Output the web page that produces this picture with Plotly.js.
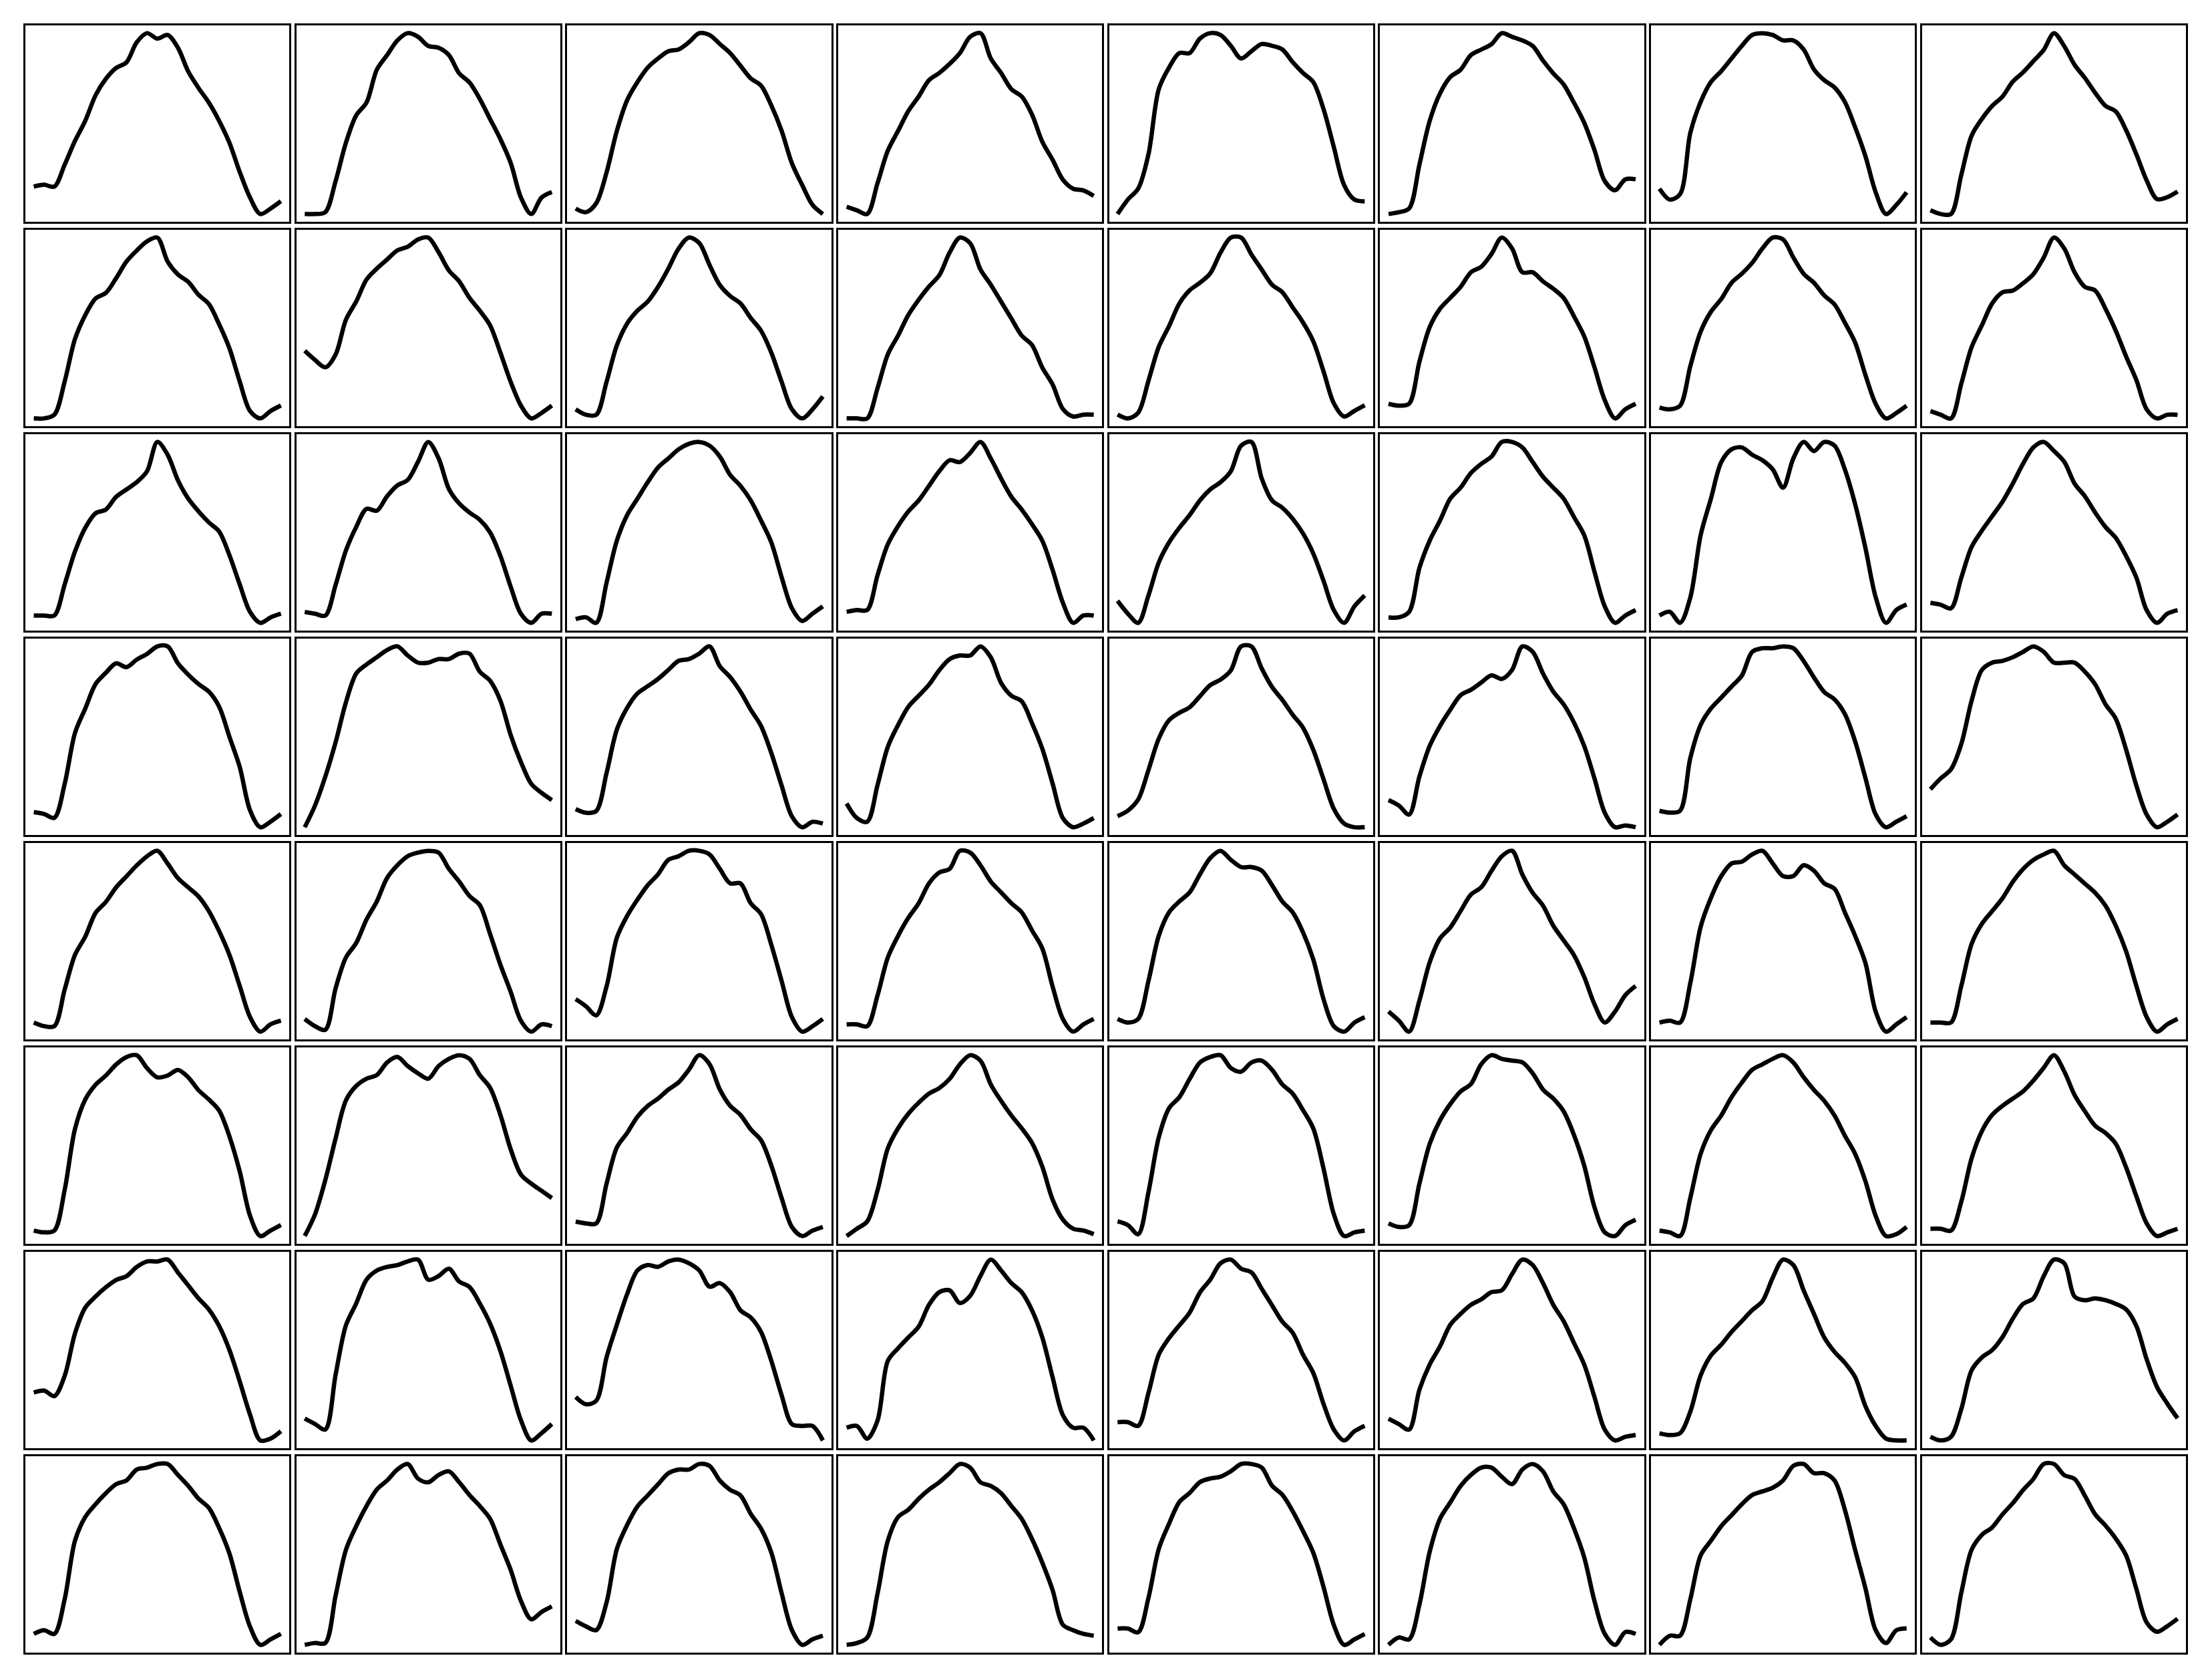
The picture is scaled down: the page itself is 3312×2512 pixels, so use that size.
<!DOCTYPE html>
<html><head><meta charset="utf-8">
<script src="https://cdn.plot.ly/plotly-3.0.1.min.js"></script>
<style>html,body{margin:0;padding:0;background:#fff}</style>
</head><body><div id="chart" style="width:3312px;height:2512px"></div>
<script>
const sampleIdx = [0,1,2,3,4,5,6,7,8,9,10,11,12,13,14,15,16,17,18,19,20,21,22,23,24];

// Row 1
const p11 = [15,16,15,27,40,51,65,74,80,83,94,99,96,98,91,78,69,61,51,39,23,9,0,3,7];
const p12 = [1,1,2,19,40,55,62,80,88,96,100,98,93,92,88,78,73,64,53,42,29,10,1,10,13];
const p13 = [3,1,6,23,46,63,73,81,86,90,91,95,100,99,94,89,82,75,71,60,46,28,16,5,0];
const p14 = [4,2,0,17,35,46,57,65,74,78,83,89,98,100,86,78,69,65,55,40,30,19,14,13,10];
const p15 = [0,8,14,33,69,81,89,89,97,100,99,93,86,90,94,93,91,84,78,73,58,37,16,8,7];
const p16 = [1,2,4,28,52,67,76,80,88,91,94,100,98,96,93,85,78,72,62,51,36,19,14,20,20];
const p17 = [14,8,11,45,62,73,79,86,93,99,100,99,96,96,91,80,74,70,62,48,32,12,0,5,12];
const p18 = [4,2,2,23,44,53,60,65,73,78,84,90,99,92,82,75,67,60,57,47,34,20,10,11,14];
// Row 2
const p21 = [1,1,3,21,44,57,66,69,77,86,92,97,99,86,79,75,68,63,52,39,21,5,1,5,8];
const p22 = [37,32,28,35,54,64,76,82,87,92,94,98,99,91,81,75,66,59,51,36,20,7,0,3,7];
const p23 = [6,3,3,21,41,53,60,65,73,83,94,100,97,85,74,68,64,56,49,37,21,6,1,6,13];
const p24 = [2,2,2,18,36,46,57,65,72,78,90,98,95,81,73,64,55,46,41,29,20,7,3,4,4];
const p25 = [3,1,4,21,39,50,62,69,73,78,89,97,97,88,80,72,68,60,52,42,26,9,2,5,8];
const p26 = [8,7,8,31,50,60,66,72,80,83,90,99,93,80,80,75,71,66,56,45,28,10,0,5,8];
const p27 = [6,5,7,29,48,59,66,75,80,86,94,100,99,89,80,75,68,63,53,42,24,8,0,3,7];
const p28 = [5,3,1,20,40,52,64,70,71,75,80,89,100,94,81,73,71,61,49,35,22,6,1,3,3];
// Row 3
const p31 = [4,4,4,21,39,52,60,62,69,73,77,83,99,92,78,68,61,55,50,37,21,6,0,3,5];
const p32 = [6,5,4,21,40,53,63,62,70,76,79,89,100,91,74,66,61,57,50,37,20,5,0,5,5];
const p33 = [3,4,1,23,46,60,69,78,86,91,96,99,100,98,92,82,76,68,57,45,26,9,2,6,10];
const p34 = [6,7,7,26,43,53,61,67,75,83,89,88,93,99,90,79,69,62,54,45,29,11,0,4,4];
const p35 = [12,5,0,15,33,44,52,59,67,73,77,83,97,99,79,67,63,57,49,38,23,7,0,9,15];
const p36 = [3,3,6,30,45,56,68,74,82,87,91,99,99,96,88,80,74,68,58,48,28,9,0,4,7];
const p37 = [4,6,0,14,48,68,88,95,96,92,89,84,74,90,99,94,99,97,84,65,41,14,0,7,10];
const p38 = [11,10,8,25,42,51,59,67,77,88,97,100,95,89,77,70,61,53,47,37,25,7,0,5,7];
// Row 4
const p41 = [9,8,6,24,51,64,77,83,88,86,90,93,97,97,88,82,77,73,65,49,33,10,1,4,8];
const p42 = [0,12,28,47,69,85,90,94,98,100,95,91,91,93,93,96,96,86,81,70,51,36,24,19,15];
const p43 = [10,8,9,30,54,66,74,78,82,87,92,93,96,100,89,83,75,65,56,41,23,6,0,3,2];
const p44 = [14,6,4,24,45,57,67,73,79,87,93,95,95,100,94,80,73,70,58,44,25,6,1,3,6];
const p45 = [6,9,15,31,48,58,62,65,71,77,80,85,98,98,86,76,69,61,54,42,26,10,2,0,0];
const p46 = [15,12,7,28,45,56,65,73,76,80,84,82,87,100,97,85,75,68,58,45,27,8,0,1,0];
const p47 = [9,8,9,38,56,65,71,77,83,96,98,98,99,98,91,82,74,70,62,47,27,7,0,3,6];
const p48 = [21,27,32,46,70,87,91,92,94,97,100,97,91,91,91,86,79,68,60,43,23,7,0,3,7];
// Row 5
const p51 = [5,3,3,23,42,52,65,71,79,85,91,96,99,92,84,79,74,66,55,42,25,8,0,4,6];
const p52 = [7,3,1,24,41,49,62,72,85,92,97,99,100,99,90,83,75,70,54,37,22,6,0,4,3];
const p53 = [18,14,9,25,52,64,73,81,87,95,97,100,100,98,90,82,82,71,65,48,28,8,0,3,7];
const p54 = [4,4,3,20,41,53,63,71,82,88,90,100,99,92,83,77,71,66,56,46,25,7,0,4,7];
const p55 = [7,5,7,28,53,66,72,77,87,96,100,95,91,91,89,81,72,66,55,40,18,3,0,5,8];
const p56 = [11,6,0,17,38,51,57,66,75,79,88,96,99,86,76,69,58,50,42,30,15,5,11,20,25];
const p57 = [5,6,5,27,58,74,86,93,94,98,100,93,86,86,92,89,82,79,66,53,38,11,0,4,8];
const p58 = [5,5,5,25,48,59,66,73,82,89,94,97,99,91,86,81,76,69,58,44,25,8,0,4,7];
// Row 6
const p61 = [4,3,4,26,59,75,83,88,94,98,99,92,87,88,91,87,80,75,69,55,36,12,1,4,7];
const p62 = [0,12,31,54,75,83,87,89,96,99,94,90,87,94,98,100,98,89,82,67,48,34,29,25,21];
const p63 = [8,7,7,29,49,57,66,72,76,81,85,92,100,95,81,72,67,59,53,39,21,5,0,3,5];
const p64 = [0,4,8,25,48,59,67,73,78,81,86,94,99,96,83,74,66,59,51,38,20,9,4,3,1];
const p65 = [9,7,2,25,55,71,77,87,96,99,100,93,91,96,97,92,84,79,70,60,38,13,1,3,4];
const p66 = [7,5,6,29,51,64,73,80,84,95,100,98,97,96,90,81,76,69,56,39,16,2,0,6,9];
const p67 = [4,3,1,22,46,59,67,77,85,92,95,98,100,96,88,81,75,67,56,46,31,12,1,2,6];
const p68 = [4,4,3,19,43,58,67,72,76,80,86,93,100,91,78,69,61,57,51,38,22,7,0,2,4];
// Row 7
const p71 = [27,28,25,36,59,73,79,84,88,90,95,98,98,99,92,85,78,72,63,50,33,15,1,2,6];
const p72 = [12,9,6,36,63,75,88,93,95,96,98,99,88,90,94,87,84,75,64,49,30,11,0,4,9];
const p73 = [24,20,22,46,64,81,94,97,96,99,100,98,94,85,87,82,72,68,60,44,25,9,8,8,0];
const p74 = [7,8,1,11,44,51,57,63,75,82,83,76,80,91,100,94,87,82,72,57,35,14,7,7,0];
const p75 = [10,10,8,26,47,56,63,70,81,88,97,99,94,92,83,74,65,59,47,37,20,6,0,5,8];
const p76 = [12,9,6,28,42,52,64,70,75,78,82,83,92,100,97,87,75,66,54,42,24,6,0,2,3];
const p77 = [4,3,4,16,36,47,53,60,66,72,77,90,100,97,83,70,57,49,43,35,19,8,1,0,0];
const p78 = [2,0,2,17,38,45,49,56,66,74,77,89,98,96,78,76,77,76,74,71,62,44,29,20,12];
// Row 8
const p81 = [6,8,6,25,57,70,77,83,88,90,96,97,99,99,93,87,80,75,64,50,29,10,0,3,6];
const p82 = [1,2,2,28,53,66,77,86,91,97,100,92,90,94,96,90,83,77,70,56,42,25,15,19,22];
const p83 = [13,10,8,23,52,65,75,81,87,93,95,95,98,97,89,84,81,71,63,50,28,8,0,3,5];
const p84 = [0,1,4,28,57,70,74,80,85,89,94,99,97,89,87,83,76,69,58,45,30,11,8,6,5];
const p85 = [9,9,7,26,53,67,79,84,90,92,93,96,100,100,98,88,83,74,63,51,32,11,0,3,6];
const p86 = [1,5,4,23,52,70,79,88,94,98,98,93,89,97,100,96,85,78,65,49,25,7,1,8,7];
const p87 = [0,5,5,25,49,57,65,71,77,82,84,86,90,98,99,94,94,90,74,52,31,8,1,8,9];
const p88 = [5,1,4,29,52,60,64,71,77,84,90,98,98,92,90,81,71,65,58,49,31,13,8,11,15];

const panels = [
  [p11,p12,p13,p14,p15,p16,p17,p18],
  [p21,p22,p23,p24,p25,p26,p27,p28],
  [p31,p32,p33,p34,p35,p36,p37,p38],
  [p41,p42,p43,p44,p45,p46,p47,p48],
  [p51,p52,p53,p54,p55,p56,p57,p58],
  [p61,p62,p63,p64,p65,p66,p67,p68],
  [p71,p72,p73,p74,p75,p76,p77,p78],
  [p81,p82,p83,p84,p85,p86,p87,p88]
];

const W = 3312, H = 2512;
const mL = 38, mR = 39, mT = 38, mB = 38;
const plotW = W - mL - mR, plotH = H - mT - mB;
const gapX = 10.5, gapY = 12;
const nC = 8, nR = 8;
const cellW = (plotW - gapX*(nC-1))/nC;
const cellH = (plotH - gapY*(nR-1))/nR;
const padX = 0.034, padY = 0.043;

const traces = [];
const layout = {
  width: W, height: H,
  margin: {l: mL, r: mR, t: mT, b: mB, pad: 0},
  showlegend: false,
  paper_bgcolor: '#ffffff',
  plot_bgcolor: '#ffffff'
};

const nPts = sampleIdx.length - 1;
let k = 0;
for (let r = 0; r < nR; r++) {
  for (let c = 0; c < nC; c++) {
    k++;
    const ys = panels[r][c];
    const xa = k === 1 ? 'xaxis' : 'xaxis' + k;
    const ya = k === 1 ? 'yaxis' : 'yaxis' + k;
    const xref = k === 1 ? 'x' : 'x' + k;
    const yref = k === 1 ? 'y' : 'y' + k;
    traces.push({
      x: sampleIdx, y: ys, type: 'scatter', mode: 'lines',
      xaxis: xref, yaxis: yref,
      line: {color: '#000000', width: 6.5, shape: 'spline', smoothing: 0.9},
      hoverinfo: 'skip'
    });
    const ymin = Math.min(...ys), ymax = Math.max(...ys);
    const span = ymax - ymin;
    const x0 = (c*(cellW+gapX))/plotW;
    const x1 = (c*(cellW+gapX)+cellW)/plotW;
    const y1 = 1 - (r*(cellH+gapY))/plotH;
    const y0 = 1 - (r*(cellH+gapY)+cellH)/plotH;
    const common = {
      showgrid: false, zeroline: false, showticklabels: false, ticks: '',
      showline: true, mirror: true, linecolor: '#000000', linewidth: 3,
      fixedrange: true
    };
    layout[xa] = Object.assign({}, common, {
      domain: [x0, x1], anchor: yref,
      range: [-padX*nPts, (1+padX)*nPts]
    });
    layout[ya] = Object.assign({}, common, {
      domain: [y0, y1], anchor: xref,
      range: [ymin - padY*span, ymax + padY*span]
    });
  }
}

Plotly.newPlot('chart', traces, layout, {staticPlot: true, displayModeBar: false});
</script>
</body></html>
